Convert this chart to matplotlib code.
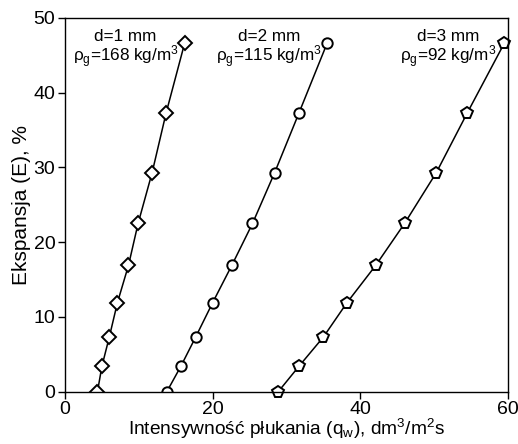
import matplotlib.pyplot as plt

plt.rcParams['font.family'] = ['Liberation Sans', 'DejaVu Sans']
plt.rcParams['mathtext.fontset'] = 'custom'
plt.rcParams['mathtext.rm'] = 'Liberation Sans'
plt.rcParams['mathtext.it'] = 'Liberation Sans'
plt.rcParams['mathtext.default'] = 'rm'

# ekspansja, wspolna dla trzech serii
E = [0, 3.4, 7.3, 11.9, 16.9, 22.5, 29.3, 37.3, 46.6]

q_d1 = [4.4, 5.0, 6.0, 7.1, 8.6, 9.9, 11.8, 13.7, 16.2]
q_d2 = [13.8, 15.7, 17.7, 20.0, 22.6, 25.4, 28.4, 31.7, 35.5]
q_d3 = [28.9, 31.7, 35.0, 38.2, 42.1, 46.0, 50.3, 54.5, 59.5]

etykiety = ['d=1 mm\n$\\rho_g$=168 kg/m$^3$',
            'd=2 mm\n$\\rho_g$=115 kg/m$^3$',
            'd=3 mm\n$\\rho_g$=92 kg/m$^3$']

fig = plt.figure(figsize=(5.18, 4.44), dpi=100)
ax = fig.add_axes([0.1255, 0.118, 0.855, 0.8415])

styl = dict(color='black', lw=1.1, mfc='white', mec='black', mew=1.4)
ax.plot(q_d1, E, marker='D', ms=7, **styl)
ax.plot(q_d2, E, marker='o', ms=7.5, **styl)
ax.plot(q_d3, E, marker='p', ms=8.5, clip_on=False, **styl)

# opisy serii
ax.text(8.2, 45.8, etykiety[0], ha='center', va='center', fontsize=12.3, linespacing=0.95)
ax.text(27.6, 45.8, etykiety[1], ha='center', va='center', fontsize=12.3, linespacing=0.95)
ax.text(51.9, 45.8, etykiety[2], ha='center', va='center', fontsize=12.3, linespacing=0.95)

ax.set_xlim(0, 60)
ax.set_ylim(0, 50)
ax.set_xticks([0, 20, 40, 60])
ax.set_yticks([0, 10, 20, 30, 40, 50])
ax.tick_params(direction='out', length=5, width=1, labelsize=14, pad=2)
ax.set_xlabel('Intensywność płukania (q$_w$), dm$^3$/m$^2$s', fontsize=13.8, labelpad=-1)
ax.set_ylabel('Ekspansja (E), %', fontsize=15, labelpad=2)
for s in ax.spines.values():
    s.set_linewidth(1)

plt.savefig('out.png', dpi=100)
plt.close(fig)
